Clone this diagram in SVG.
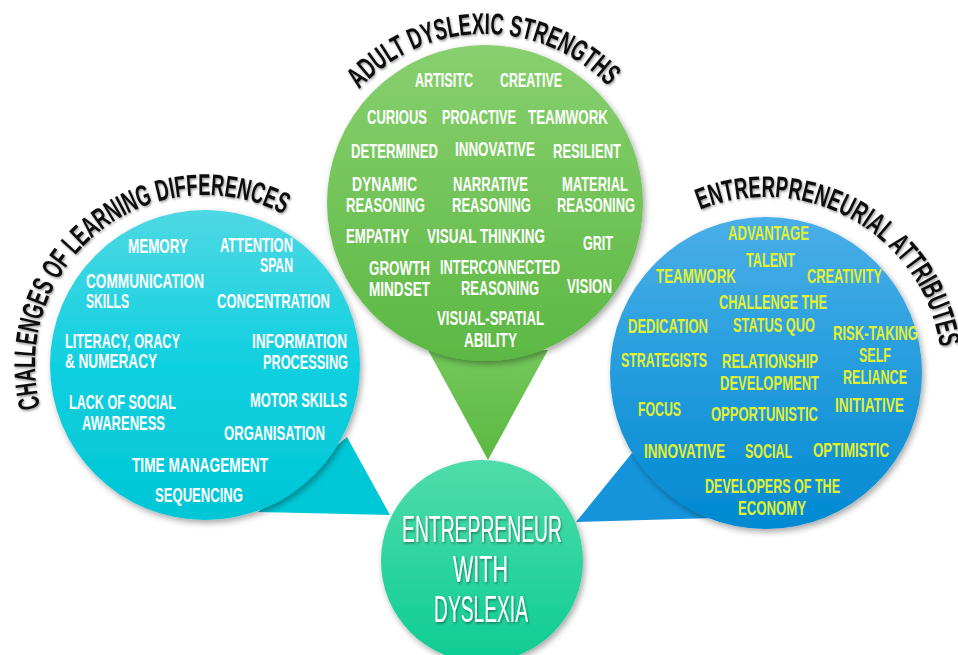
<svg xmlns="http://www.w3.org/2000/svg" width="958" height="655" viewBox="0 0 958 655">
<defs>
<linearGradient id="gCyan" x1="0" y1="0" x2="0" y2="1"><stop offset="0" stop-color="#4ed8e3"/><stop offset="0.5" stop-color="#10d0e0"/><stop offset="1" stop-color="#00c6d6"/></linearGradient>
<linearGradient id="gGreen" x1="0" y1="0" x2="0" y2="1"><stop offset="0" stop-color="#88d06f"/><stop offset="1" stop-color="#5cb843"/></linearGradient>
<linearGradient id="gBlue" x1="0" y1="0" x2="0" y2="1"><stop offset="0" stop-color="#4aafe8"/><stop offset="1" stop-color="#0089d2"/></linearGradient>
<linearGradient id="gTeal" x1="0" y1="0" x2="0" y2="1"><stop offset="0" stop-color="#50dcab"/><stop offset="1" stop-color="#0dcd92"/></linearGradient>
<linearGradient id="gTailG" x1="0" y1="0" x2="0" y2="1"><stop offset="0" stop-color="#74c85b"/><stop offset="1" stop-color="#5bb842"/></linearGradient>
<filter id="sh" x="-20%" y="-20%" width="140%" height="140%"><feDropShadow dx="2" dy="3" stdDeviation="3" flood-color="#000" flood-opacity="0.35"/></filter>
<filter id="tsh" x="-10%" y="-10%" width="120%" height="120%"><feDropShadow dx="1" dy="1.5" stdDeviation="1" flood-color="#000" flood-opacity="0.4"/></filter>
<path id="arcL" d="M40.8,409 A170,170 0 0 1 290,217.8"/>
<path id="arcM" d="M354,95.1 A171,171 0 0 1 616,95.1"/>
<path id="arcR" d="M691.6,213.5 A176,176 0 0 1 941.3,357.7"/>
</defs>
<style>
text{font-family:"Liberation Sans Narrow","Liberation Sans",Arial,sans-serif;}
.w{fill:#ffffff;font-size:21px;font-weight:bold;}
.y{fill:#e2f030;font-size:21px;font-weight:bold;}
.c{fill:#ffffff;font-size:36px;}
.t{fill:#111111;font-size:30px;font-weight:bold;}
</style>
<g id="connectors">
<polygon points="347,437 390,515 258,512" fill="#00c8d6"/>
<polygon points="428,350 548,350 488,460" fill="url(#gTailG)"/>
<polygon points="632,453 576,522 715,518" fill="#1594dc"/>
</g>
<g id="challenges">
<circle cx="205" cy="365" r="155" fill="url(#gCyan)" filter="url(#sh)"/>
<text class="t" filter="url(#tsh)"><textPath href="#arcL" startOffset="1.8" textLength="391" lengthAdjust="spacingAndGlyphs">CHALLENGES OF LEARNING DIFFERENCES</textPath></text>
<g class="w">
<text x="128" y="253" textLength="60" lengthAdjust="spacingAndGlyphs">MEMORY</text>
<text x="220" y="252" textLength="73" lengthAdjust="spacingAndGlyphs">ATTENTION</text>
<text x="260" y="272" textLength="33" lengthAdjust="spacingAndGlyphs">SPAN</text>
<text x="86" y="288" textLength="118" lengthAdjust="spacingAndGlyphs">COMMUNICATION</text>
<text x="86" y="308" textLength="43" lengthAdjust="spacingAndGlyphs">SKILLS</text>
<text x="217" y="308" textLength="113" lengthAdjust="spacingAndGlyphs">CONCENTRATION</text>
<text x="65" y="348" textLength="115" lengthAdjust="spacingAndGlyphs">LITERACY, ORACY</text>
<text x="65" y="368" textLength="92" lengthAdjust="spacingAndGlyphs">&amp; NUMERACY</text>
<text x="252" y="348" textLength="95" lengthAdjust="spacingAndGlyphs">INFORMATION</text>
<text x="263" y="369" textLength="85" lengthAdjust="spacingAndGlyphs">PROCESSING</text>
<text x="69" y="409" textLength="107" lengthAdjust="spacingAndGlyphs">LACK OF SOCIAL</text>
<text x="82" y="430" textLength="83" lengthAdjust="spacingAndGlyphs">AWARENESS</text>
<text x="250" y="407" textLength="97" lengthAdjust="spacingAndGlyphs">MOTOR SKILLS</text>
<text x="224" y="440" textLength="101" lengthAdjust="spacingAndGlyphs">ORGANISATION</text>
<text x="132" y="472" textLength="136" lengthAdjust="spacingAndGlyphs">TIME MANAGEMENT</text>
<text x="155" y="502" textLength="88" lengthAdjust="spacingAndGlyphs">SEQUENCING</text>
</g>
</g>
<g id="strengths">
<circle cx="485" cy="203" r="158" fill="url(#gGreen)" filter="url(#sh)"/>
<text class="t" filter="url(#tsh)"><textPath href="#arcM" startOffset="7.8" textLength="279" lengthAdjust="spacingAndGlyphs">ADULT DYSLEXIC STRENGTHS</textPath></text>
<g class="w">
<text x="415" y="87" textLength="58" lengthAdjust="spacingAndGlyphs">ARTISITC</text>
<text x="500" y="87" textLength="62" lengthAdjust="spacingAndGlyphs">CREATIVE</text>
<text x="367" y="124" textLength="60" lengthAdjust="spacingAndGlyphs">CURIOUS</text>
<text x="442" y="124" textLength="74" lengthAdjust="spacingAndGlyphs">PROACTIVE</text>
<text x="528" y="124" textLength="80" lengthAdjust="spacingAndGlyphs">TEAMWORK</text>
<text x="351" y="158" textLength="87" lengthAdjust="spacingAndGlyphs">DETERMINED</text>
<text x="455" y="156" textLength="80" lengthAdjust="spacingAndGlyphs">INNOVATIVE</text>
<text x="553" y="158" textLength="68" lengthAdjust="spacingAndGlyphs">RESILIENT</text>
<text x="352" y="191" textLength="65" lengthAdjust="spacingAndGlyphs">DYNAMIC</text>
<text x="346" y="212" textLength="79" lengthAdjust="spacingAndGlyphs">REASONING</text>
<text x="453" y="191" textLength="75" lengthAdjust="spacingAndGlyphs">NARRATIVE</text>
<text x="452" y="212" textLength="79" lengthAdjust="spacingAndGlyphs">REASONING</text>
<text x="562" y="191" textLength="66" lengthAdjust="spacingAndGlyphs">MATERIAL</text>
<text x="557" y="212" textLength="78" lengthAdjust="spacingAndGlyphs">REASONING</text>
<text x="346" y="243" textLength="63" lengthAdjust="spacingAndGlyphs">EMPATHY</text>
<text x="427" y="243" textLength="118" lengthAdjust="spacingAndGlyphs">VISUAL THINKING</text>
<text x="583" y="250" textLength="30" lengthAdjust="spacingAndGlyphs">GRIT</text>
<text x="369" y="275" textLength="61" lengthAdjust="spacingAndGlyphs">GROWTH</text>
<text x="369" y="296" textLength="61" lengthAdjust="spacingAndGlyphs">MINDSET</text>
<text x="440" y="274" textLength="120" lengthAdjust="spacingAndGlyphs">INTERCONNECTED</text>
<text x="461" y="295" textLength="78" lengthAdjust="spacingAndGlyphs">REASONING</text>
<text x="567" y="293" textLength="45" lengthAdjust="spacingAndGlyphs">VISION</text>
<text x="437" y="325" textLength="107" lengthAdjust="spacingAndGlyphs">VISUAL-SPATIAL</text>
<text x="464" y="347" textLength="53" lengthAdjust="spacingAndGlyphs">ABILITY</text>
</g>
</g>
<g id="attributes">
<circle cx="766" cy="373" r="156" fill="url(#gBlue)" filter="url(#sh)"/>
<text class="t" filter="url(#tsh)"><textPath href="#arcR" startOffset="9.2" textLength="318" lengthAdjust="spacingAndGlyphs">ENTRERPRENEURIAL ATTRIBUTES</textPath></text>
<g class="y">
<text x="728" y="240" textLength="81" lengthAdjust="spacingAndGlyphs">ADVANTAGE</text>
<text x="746" y="267" textLength="49" lengthAdjust="spacingAndGlyphs">TALENT</text>
<text x="656" y="283" textLength="80" lengthAdjust="spacingAndGlyphs">TEAMWORK</text>
<text x="807" y="283" textLength="75" lengthAdjust="spacingAndGlyphs">CREATIVITY</text>
<text x="719" y="309" textLength="108" lengthAdjust="spacingAndGlyphs">CHALLENGE THE</text>
<text x="733" y="332" textLength="82" lengthAdjust="spacingAndGlyphs">STATUS QUO</text>
<text x="628" y="333" textLength="80" lengthAdjust="spacingAndGlyphs">DEDICATION</text>
<text x="833" y="340" textLength="85" lengthAdjust="spacingAndGlyphs">RISK-TAKING</text>
<text x="621" y="367" textLength="86" lengthAdjust="spacingAndGlyphs">STRATEGISTS</text>
<text x="722" y="368" textLength="96" lengthAdjust="spacingAndGlyphs">RELATIONSHIP</text>
<text x="720" y="390" textLength="99" lengthAdjust="spacingAndGlyphs">DEVELOPMENT</text>
<text x="859" y="362" textLength="32" lengthAdjust="spacingAndGlyphs">SELF</text>
<text x="843" y="384" textLength="64" lengthAdjust="spacingAndGlyphs">RELIANCE</text>
<text x="835" y="412" textLength="69" lengthAdjust="spacingAndGlyphs">INITIATIVE</text>
<text x="638" y="416" textLength="43" lengthAdjust="spacingAndGlyphs">FOCUS</text>
<text x="711" y="421" textLength="107" lengthAdjust="spacingAndGlyphs">OPPORTUNISTIC</text>
<text x="644" y="458" textLength="81" lengthAdjust="spacingAndGlyphs">INNOVATIVE</text>
<text x="745" y="458" textLength="47" lengthAdjust="spacingAndGlyphs">SOCIAL</text>
<text x="813" y="457" textLength="76" lengthAdjust="spacingAndGlyphs">OPTIMISTIC</text>
<text x="705" y="493" textLength="135" lengthAdjust="spacingAndGlyphs">DEVELOPERS OF THE</text>
<text x="738" y="515" textLength="68" lengthAdjust="spacingAndGlyphs">ECONOMY</text>
</g>
</g>
<g id="entrepreneur">
<circle cx="482" cy="561" r="101" fill="url(#gTeal)" filter="url(#sh)"/>
<g class="c" filter="url(#tsh)">
<text x="402" y="542" textLength="160" lengthAdjust="spacingAndGlyphs">ENTREPRENEUR</text>
<text x="453" y="582" textLength="55" lengthAdjust="spacingAndGlyphs">WITH</text>
<text x="434" y="622" textLength="94" lengthAdjust="spacingAndGlyphs">DYSLEXIA</text>
</g>
</g>
</svg>
